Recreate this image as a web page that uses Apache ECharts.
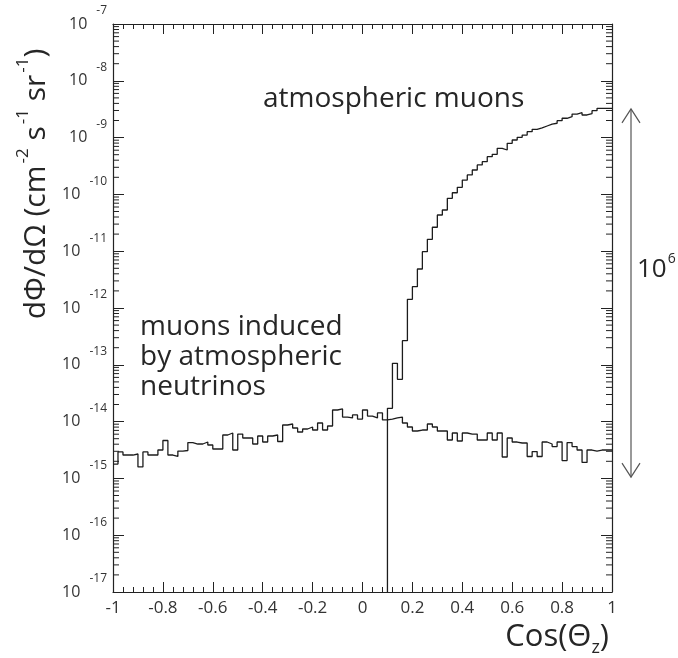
<!DOCTYPE html>
<html>
<head>
<meta charset="utf-8">
<title>muon flux vs zenith</title>
<script src="https://cdn.jsdelivr.net/npm/echarts@6/dist/echarts.min.js"></script>
<style>
  html, body { margin: 0; padding: 0; background: #fff; }
  #main { width: 678px; height: 658px; }
</style>
</head>
<body>
<div id="main"></div>
<script>
// histogram binning: 100 bins of 0.02 over cos(theta_z) = -1 .. 1
var binLow = -1
var binWidth = 0.02

// muons induced by atmospheric neutrinos (one value per bin)
var neutrinoFlux = [
  1.79e-15, 2.92e-15, 2.58e-15, 2.58e-15, 2.69e-15, 1.59e-15, 2.92e-15, 2.58e-15, 2.58e-15, 3.16e-15,
  4.65e-15, 2.58e-15, 2.43e-15, 3.03e-15, 3.10e-15, 4.28e-15, 4.03e-15, 4.03e-15, 4.37e-15, 3.87e-15,
  3.29e-15, 3.29e-15, 5.81e-15, 6.30e-15, 3.16e-15, 6.04e-15, 5.14e-15, 5.14e-15, 4.03e-15, 5.58e-15,
  4.37e-15, 5.58e-15, 5.81e-15, 4.46e-15, 8.71e-15, 9.07e-15, 7.72e-15, 6.56e-15, 7.41e-15, 8.03e-15,
  7.11e-15, 9.45e-15, 7.11e-15, 8.37e-15, 1.60e-14, 1.67e-14, 1.20e-14, 1.16e-14, 1.31e-14, 1.11e-14,
  1.60e-14, 1.25e-14, 1.16e-14, 1.42e-14, 1.07e-14, 1.11e-14, 1.16e-14, 1.20e-14, 9.45e-15, 8.03e-15,
  6.83e-15, 7.11e-15, 7.11e-15, 9.07e-15, 8.03e-15, 6.83e-15, 6.83e-15, 4.74e-15, 6.30e-15, 4.55e-15,
  6.30e-15, 6.04e-15, 6.04e-15, 4.74e-15, 4.74e-15, 6.30e-15, 4.74e-15, 6.30e-15, 2.38e-15, 5.14e-15,
  4.37e-15, 4.20e-15, 4.20e-15, 2.43e-15, 2.97e-15, 2.43e-15, 4.37e-15, 4.03e-15, 3.64e-15, 4.37e-15,
  2.06e-15, 4.28e-15, 3.64e-15, 3.16e-15, 1.91e-15, 3.16e-15, 3.03e-15, 3.16e-15, 3.16e-15, 3.16e-15
]

// atmospheric muons: empty below cos = 0.10, so values start at bin 55
var muonStartBin = 55
var muonFlux = [
  1.71e-14, 1.06e-13, 5.56e-14, 2.66e-13, 1.42e-12, 2.37e-12, 4.86e-12, 9.8e-12, 1.62e-11, 2.64e-11,
  4.34e-11, 5.31e-11, 8.53e-11, 1.07e-10, 1.33e-10, 1.79e-10, 2.20e-10, 2.69e-10, 3.30e-10, 3.77e-10,
  4.61e-10, 5.08e-10, 6.48e-10, 6.05e-10, 7.94e-10, 9.08e-10, 1.01e-9, 1.11e-9, 1.27e-9, 1.40e-9,
  1.48e-9, 1.60e-9, 1.73e-9, 1.79e-9, 1.99e-9, 2.19e-9, 2.33e-9, 2.60e-9, 2.74e-9, 2.50e-9,
  2.65e-9, 2.98e-9, 3.28e-9, 3.28e-9, 3.28e-9
]

// axis ranges and tick values
var xMin = -1, xMax = 1, xStep = 0.2
var yMin = 1e-17, yMax = 1e-7
var yDecades = [1e-17, 1e-16, 1e-15, 1e-14, 1e-13, 1e-12, 1e-11, 1e-10, 1e-9, 1e-8, 1e-7]
var minorMantissa = [2, 3, 4, 5, 6, 7, 8, 9]

// the "10^6" arrow goes from the muon plateau down to the neutrino level
var arrowSpan = [3.2e-9, 1.05e-15]

var FONT = '"Open Sans", "DejaVu Sans", sans-serif'
var INK = '#262626'

function edge(k) {
  return +(binLow + k * binWidth).toFixed(2)
}

// turn bin contents into a step outline (ROOT style)
function histOutline(vals, start, fromFloor) {
  var pts = []
  if (fromFloor) pts.push([edge(start), yMin])
  for (var i = 0; i < vals.length; i++) {
    pts.push([edge(start + i), vals[i]])
    pts.push([edge(start + i + 1), vals[i]])
  }
  return pts
}

function minorTickData() {
  var out = []
  yDecades.slice(0, -1).forEach(function(d) {
    minorMantissa.forEach(function(m) {
      out.push([xMin, m * d])
    })
  })
  return out
}

var myChart = echarts.init(document.getElementById('main'))

var xAxisBase = {
  type: 'value',
  min: xMin,
  max: xMax,
  interval: xStep,
  axisLine: { show: true, onZero: false, lineStyle: { color: '#222', width: 1.2 } },
  axisTick: { show: true, inside: true, length: 10, lineStyle: { color: '#222' } },
  minorTick: { show: true, splitNumber: 5, length: 5, lineStyle: { color: '#222' } },
  splitLine: { show: false },
  minorSplitLine: { show: false }
}

var yAxisBase = {
  type: 'log',
  logBase: 10,
  min: yMin,
  max: yMax,
  axisLine: { show: true, onZero: false, lineStyle: { color: '#222', width: 1.2 } },
  axisTick: { show: true, inside: true, length: 11, customValues: yDecades, lineStyle: { color: '#222' } },
  splitLine: { show: false }
}

myChart.setOption({
  animation: false,
  backgroundColor: '#fff',
  grid: { left: 113, top: 24, width: 499, height: 568 },
  xAxis: [
    Object.assign({}, xAxisBase, {
      position: 'bottom',
      axisLabel: {
        show: true,
        margin: 8,
        fontSize: 17,
        fontFamily: FONT,
        color: '#333',
        showMinLabel: true,
        showMaxLabel: true,
        formatter: function(v) { return String(+v.toFixed(1)) }
      }
    }),
    Object.assign({}, xAxisBase, {
      position: 'top',
      axisLabel: { show: false }
    })
  ],
  yAxis: [
    Object.assign({}, yAxisBase, {
      position: 'left',
      axisLabel: {
        show: true,
        margin: 6,
        interval: 0,
        hideOverlap: false,
        customValues: yDecades,
        fontFamily: FONT,
        color: '#333',
        formatter: function(v) {
          return '{b|10}{e|' + Math.round(Math.log10(v)) + '}'
        },
        rich: {
          b: { fontSize: 16, fontFamily: FONT, color: '#333' },
          e: { fontSize: 12, fontFamily: FONT, color: '#333', padding: [0, 0, 26, 9] }
        }
      }
    }),
    Object.assign({}, yAxisBase, {
      position: 'right',
      axisLabel: { show: false }
    })
  ],
  series: [
    {
      name: 'muons induced by atmospheric neutrinos',
      type: 'line',
      data: histOutline(neutrinoFlux, 0, false),
      showSymbol: false,
      silent: true,
      lineStyle: { color: '#1c1c1c', width: 1.3 }
    },
    {
      name: 'atmospheric muons',
      type: 'line',
      data: histOutline(muonFlux, muonStartBin, true),
      showSymbol: false,
      silent: true,
      lineStyle: { color: '#1c1c1c', width: 1.3 }
    },
    {
      // log minor ticks (2..9 x 10^n) on left and right frame
      type: 'custom',
      silent: true,
      clip: false,
      data: minorTickData(),
      encode: { x: 0, y: 1 },
      renderItem: function(params, api) {
        var v = api.value(1)
        var l = api.coord([xMin, v])
        var r = api.coord([xMax, v])
        var st = { stroke: '#222', lineWidth: 1 }
        return {
          type: 'group',
          children: [
            { type: 'line', shape: { x1: l[0], y1: l[1], x2: l[0] + 6, y2: l[1] }, style: st },
            { type: 'line', shape: { x1: r[0], y1: r[1], x2: r[0] - 6, y2: r[1] }, style: st }
          ]
        }
      }
    },
    {
      // double arrow marking the 10^6 ratio, just right of the frame
      type: 'custom',
      silent: true,
      clip: false,
      data: [[xMax, arrowSpan[0], arrowSpan[1]]],
      encode: { x: 0, y: 1 },
      renderItem: function(params, api) {
        var top = api.coord([xMax, api.value(1)])
        var bot = api.coord([xMax, api.value(2)])
        var x = top[0] + 19
        var st = { stroke: '#555', lineWidth: 1.2, fill: 'none' }
        return {
          type: 'group',
          children: [
            { type: 'line', shape: { x1: x, y1: top[1], x2: x, y2: bot[1] }, style: st },
            { type: 'polyline', shape: { points: [[x - 9, top[1] + 14], [x, top[1]], [x + 9, top[1] + 14]] }, style: st },
            { type: 'polyline', shape: { points: [[x - 9, bot[1] - 14], [x, bot[1]], [x + 9, bot[1] - 14]] }, style: st }
          ]
        }
      }
    }
  ],
  graphic: [
    {
      type: 'text',
      x: 36,
      y: 184,
      rotation: Math.PI / 2,
      style: {
        text: '{m|dΦ/dΩ (cm}{s|-2}{m| s}{s|-1}{m| sr}{s|-1}{m|)}',
        align: 'center',
        verticalAlign: 'middle',
        rich: {
          m: { fontSize: 30, fontFamily: FONT, fill: INK },
          s: { fontSize: 17, fontFamily: FONT, fill: INK, padding: [0, 0, 26, 2] }
        }
      }
    },
    {
      type: 'text',
      x: 609,
      y: 637,
      style: {
        text: '{m|Cos(Θ}{z|z}{m|)}',
        align: 'right',
        verticalAlign: 'middle',
        rich: {
          m: { fontSize: 31, fontFamily: FONT, fill: INK },
          z: { fontSize: 18, fontFamily: FONT, fill: INK, padding: [22, 0, 0, 0] }
        }
      }
    },
    {
      type: 'text',
      x: 263,
      y: 99,
      style: {
        text: 'atmospheric muons',
        font: '28px ' + FONT,
        fill: INK,
        align: 'left',
        verticalAlign: 'middle'
      }
    },
    {
      type: 'text',
      x: 140,
      y: 312,
      style: {
        text: 'muons induced\nby atmospheric\nneutrinos',
        font: '28px ' + FONT,
        lineHeight: 30,
        fill: INK,
        align: 'left',
        verticalAlign: 'top'
      }
    },
    {
      type: 'text',
      x: 637,
      y: 270,
      style: {
        text: '{b|10}{e|6}',
        align: 'left',
        verticalAlign: 'middle',
        rich: {
          b: { fontSize: 26, fontFamily: FONT, fill: INK },
          e: { fontSize: 14, fontFamily: FONT, fill: INK, padding: [0, 0, 22, 1] }
        }
      }
    }
  ]
})

window.addEventListener('resize', function() {
  myChart.resize()
})
</script>
</body>
</html>
